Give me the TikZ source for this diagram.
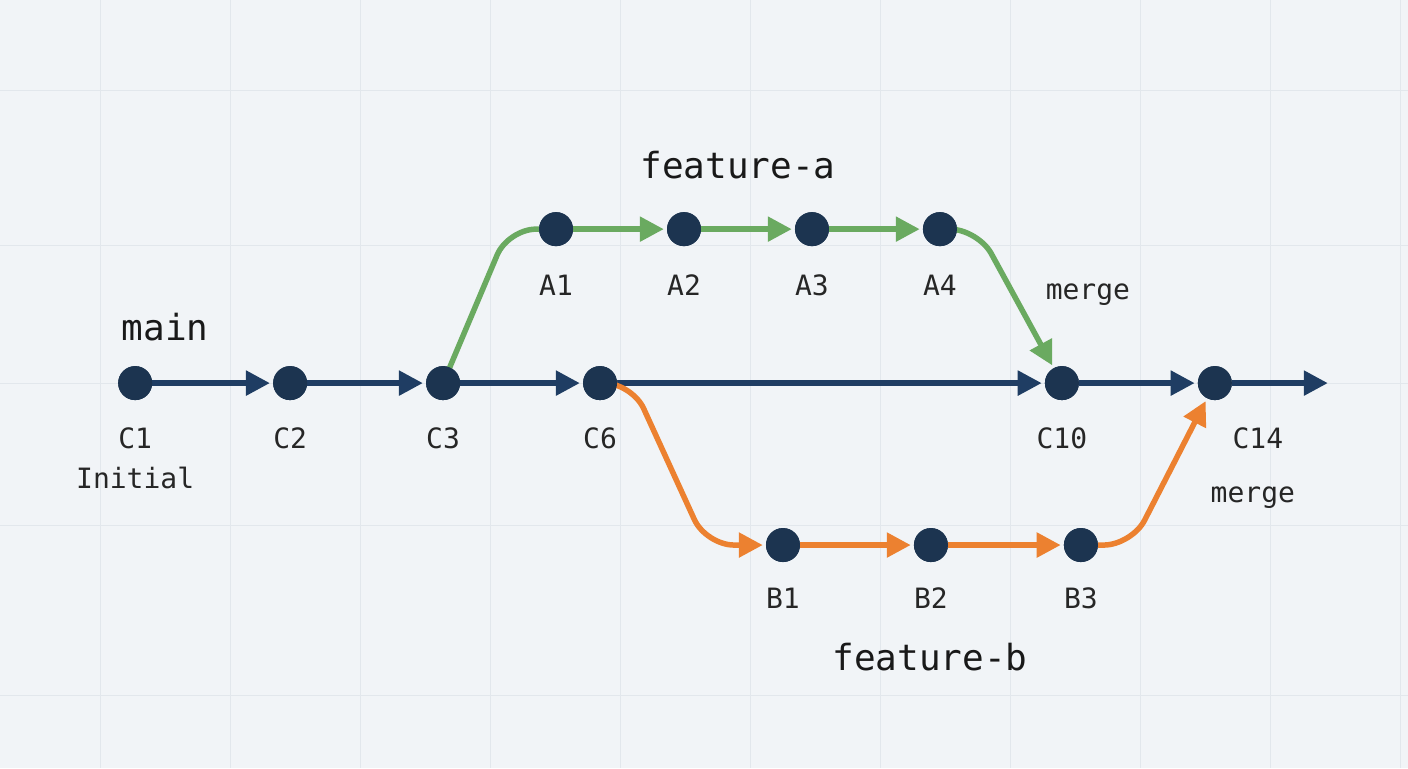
\documentclass[tikz,border=0pt]{standalone}
\usepackage{fontspec}
\setmonofont{DejaVu Sans Mono}
\usetikzlibrary{arrows.meta}
\definecolor{navy}{HTML}{1F3D63}
\definecolor{dotc}{HTML}{1C3450}
\definecolor{greenb}{HTML}{6AAA60}
\definecolor{orangeb}{HTML}{EC8130}
\definecolor{bg}{HTML}{F1F4F7}
\definecolor{gridc}{HTML}{E2E7EC}
\begin{document}
\begin{tikzpicture}[x=1pt,y=-1pt]
    % --- DEFINE STYLES ---
    \tikzset{
        commit/.style={circle, fill=dotc, inner sep=0pt, minimum size=34pt},
        lbl/.style={font=\ttfamily\fontsize{28}{28}\selectfont, text=black!85},
        branchlbl/.style={font=\ttfamily\fontsize{36}{36}\selectfont, text=black!90},
        edge/.style={line width=5.5pt, -{Triangle[length=24pt,width=24pt]}, shorten >=3pt, rounded corners=28pt},
    }
    % background and grid
    \fill[bg] (0,0) rectangle (1408,768);
    \foreach \x in {100,230,...,1400} \draw[gridc] (\x,0) -- (\x,768);
    \foreach \y in {90,245,383,525,695} \draw[gridc] (0,\y) -- (1408,\y);
    \useasboundingbox (0,0) rectangle (1408,768);

    % commits
    \foreach \n/\x in {C1/135,C2/290,C3/443,C6/600,C10/1062,C14/1215}
        \node[commit] (\n) at (\x,383) {};
    \foreach \n/\x in {A1/556,A2/684,A3/812,A4/940}
        \node[commit] (\n) at (\x,229) {};
    \foreach \n/\x in {B1/783,B2/931,B3/1081}
        \node[commit] (\n) at (\x,545) {};
    \coordinate (end) at (1328,383);

    % edges
    \foreach \a/\b in {C1/C2,C2/C3,C3/C6,C6/C10,C10/C14}
        \draw[edge, navy] (\a) -- (\b);
    \draw[edge, navy, shorten >=0pt] (C14) -- (end);
    \foreach \a/\b in {A1/A2,A2/A3,A3/A4}
        \draw[edge, greenb] (\a) -- (\b);
    \draw[line width=5.5pt, greenb, rounded corners=28pt] (C3.center) -- (508,229) -- (A1);
    \draw[edge, greenb] (A4) -- (978,229) -- (C10);
    \foreach \a/\b in {B1/B2,B2/B3}
        \draw[edge, orangeb] (\a) -- (\b);
    \draw[edge, orangeb] (C6) -- (632,383) -- (706,545) -- (B1);
    \draw[edge, orangeb] (B3) -- (1132,545) -- (C14);
    % redraw commits on top
    \foreach \n in {C1,C2,C3,C6,C10,C14,A1,A2,A3,A4,B1,B2,B3}
        \fill[dotc] (\n) circle (17pt);

    % labels
    \foreach \n/\x in {C1/135,C2/290,C3/443,C6/600,C10/1062,C14/1258}
        \node[lbl] at (\x,438) {\n};
    \foreach \n in {A1,A2,A3,A4}
        \node[lbl] at ([yshift=-56pt]\n) {\n};
    \foreach \n in {B1,B2,B3}
        \node[lbl] at ([yshift=-53pt]\n) {\n};
    \node[lbl] at (135,478) {Initial};
    \node[lbl] at (1088,295) {merge};
    \node[lbl] at (1253,498) {merge};
    \node[branchlbl] at (165,327) {main};
    \node[branchlbl] at (738,165) {feature-a};
    \node[branchlbl] at (930,657) {feature-b};
\end{tikzpicture}
\end{document}
